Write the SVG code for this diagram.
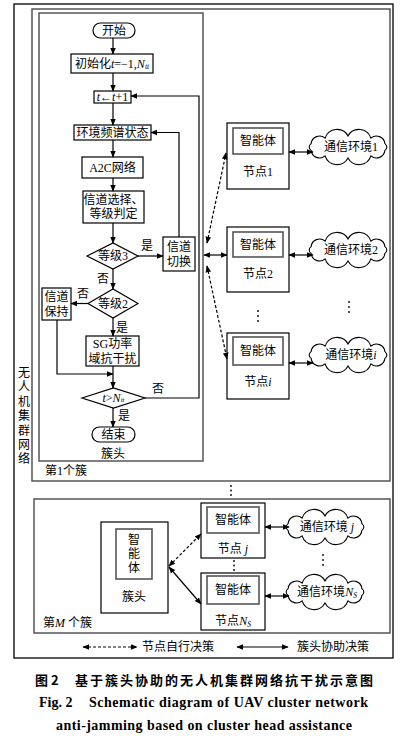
<svg xmlns="http://www.w3.org/2000/svg" width="403" height="751" viewBox="0 0 403 751">
<style>
.bx{fill:#fff;stroke:#000;stroke-width:1.2}
.gb{fill:none;stroke:#555;stroke-width:1.5}
.ib{fill:#fff;stroke:#555;stroke-width:1.6}
.t{font-family:"Liberation Serif","Noto Sans CJK SC",serif;font-size:12px;text-anchor:middle;dominant-baseline:central;fill:#000}
.tl{font-family:"Liberation Serif","Noto Sans CJK SC",serif;font-size:12px;dominant-baseline:central;fill:#000}
.ln{stroke:#000;stroke-width:1.2;fill:none}
.a{marker-end:url(#ah)}
.aa{marker-start:url(#ah);marker-end:url(#ah)}
.d{stroke-dasharray:3,2}
.cl{fill:#fff;stroke:#000;stroke-width:1.1}
.cap{font-family:"Noto Sans CJK SC",sans-serif;font-weight:bold;font-size:13px;dominant-baseline:central}
.en{font-family:"Liberation Serif",serif;font-weight:bold;font-size:14px}
</style>
<defs>
<marker id="ah" viewBox="0 0 10 10" refX="9" refY="5" markerWidth="7" markerHeight="7" markerUnits="userSpaceOnUse" orient="auto-start-reverse"><path d="M0,1 L10,5 L0,9 z" fill="#000"/></marker>
<path id="cloud" d="M-36.9,3.4 A4,4 0 0 1 -36.9,-3.4 A8.5,8.5 0 0 1 -22.9,-8.9 A12.5,12.5 0 0 1 0,-11 A12.5,12.5 0 0 1 22.9,-8.9 A8.5,8.5 0 0 1 36.9,-3.4 A4,4 0 0 1 36.9,3.4 A8.5,8.5 0 0 1 22.9,8.9 A12.5,12.5 0 0 1 0,11 A12.5,12.5 0 0 1 -22.9,8.9 A8.5,8.5 0 0 1 -36.9,3.4 Z"/>
</defs>
<rect width="403" height="751" fill="#fff"/>

<!-- frames -->
<g id="frame">
<rect x="14" y="4" width="379" height="654" fill="none" stroke="#000" stroke-width="1.3"/>
<text x="24" y="373" class="t"><tspan x="24" y="373">无</tspan><tspan x="24" y="387.4">人</tspan><tspan x="24" y="401.8">机</tspan><tspan x="24" y="416.2">集</tspan><tspan x="24" y="430.6">群</tspan><tspan x="24" y="445">网</tspan><tspan x="24" y="459.4">络</tspan></text>
</g>
<g id="cluster1">
<rect x="32" y="9" width="358" height="472" class="gb"/>
<text x="45" y="471" class="tl">第1个簇</text>
</g>
<g id="head1">
<rect x="39" y="13" width="164" height="448" class="gb"/>
<text x="113" y="454" class="t">簇头</text>
</g>

<!-- flowchart nodes -->
<g id="start"><rect x="93" y="23" width="42" height="15" rx="7.5" class="bx"/><text x="114" y="30.5" class="t">开始</text></g>
<g id="init"><rect x="71" y="54" width="82" height="19" class="bx"/><text x="112" y="63.5" class="t">初始化<tspan font-style="italic">t</tspan>=−1,<tspan font-style="italic">N</tspan><tspan font-style="italic" font-size="7.5" dy="2.5">tt</tspan></text></g>
<g id="inc"><rect x="94" y="91" width="37" height="12" class="bx"/><text x="112.5" y="97" class="t" font-size="11"><tspan font-style="italic">t</tspan>←<tspan font-style="italic">t</tspan>+1</text></g>
<g id="env"><rect x="74" y="125" width="77" height="15" class="bx"/><text x="112.5" y="132.5" class="t">环境频谱状态</text></g>
<g id="a2c"><rect x="82" y="157" width="61" height="21" class="bx"/><text x="112.5" y="167.5" class="t">A2C网络</text></g>
<g id="sel"><rect x="83" y="191" width="61" height="32" class="bx"/><text x="113.5" y="200" class="t" font-size="11">信道选择、</text><text x="113.5" y="214" class="t" font-size="11">等级判定</text></g>
<g id="lv3"><path d="M87,256 L113,243 L138,256 L113,269 Z" class="bx"/><text x="113" y="256" class="t">等级3</text></g>
<g id="sw"><rect x="163" y="237" width="32" height="34" class="bx"/><text x="179" y="247" class="t">信道</text><text x="179" y="262" class="t">切换</text></g>
<g id="lv2"><path d="M88,303.5 L113,289 L138,303.5 L113,318 Z" class="bx"/><text x="113" y="303.5" class="t">等级2</text></g>
<g id="keep"><rect x="42" y="288" width="29" height="32" class="bx"/><text x="56.5" y="297" class="t">信道</text><text x="56.5" y="312" class="t">保持</text></g>
<g id="sg"><rect x="86" y="336" width="53" height="30" class="bx"/><text x="112.5" y="344" class="t">SG功率</text><text x="112.5" y="359" class="t">域抗干扰</text></g>
<g id="cond"><path d="M82,398 L113.5,388 L145,398 L113.5,408 Z" class="bx"/><text x="113.5" y="397.5" class="t" font-size="11"><tspan font-style="italic">t</tspan>&gt;<tspan font-style="italic">N</tspan><tspan font-style="italic" font-size="7" dy="2.5">tt</tspan></text></g>
<g id="end"><rect x="92" y="427" width="43" height="15" rx="7.5" class="bx"/><text x="113.5" y="434.5" class="t">结束</text></g>

<!-- right side nodes -->
<g id="node1"><rect x="227" y="123" width="62" height="66" class="bx"/><rect x="233" y="128" width="50" height="26" class="ib"/><text x="258" y="141" class="t">智能体</text><text x="258" y="172" class="t">节点1</text></g>
<g id="env1"><use href="#cloud" x="348" y="147" class="cl"/><text x="351" y="147" class="t">通信环境1</text></g>
<g id="node2"><rect x="227" y="227" width="62" height="65" class="bx"/><rect x="233" y="232" width="50" height="25" class="ib"/><text x="258" y="244.5" class="t">智能体</text><text x="258" y="274" class="t">节点2</text></g>
<g id="env2"><use href="#cloud" x="348" y="250" class="cl"/><text x="351" y="250" class="t">通信环境2</text></g>
<g id="nodei"><rect x="227" y="333" width="62" height="66" class="bx"/><rect x="233" y="337" width="50" height="28" class="ib"/><text x="258" y="351" class="t">智能体</text><text x="258" y="382" class="t">节点<tspan font-style="italic">i</tspan></text></g>
<g id="envi"><use href="#cloud" x="348" y="355" class="cl"/><text x="351" y="355" class="t">通信环境<tspan font-style="italic">i</tspan></text></g>
<g id="dots1" fill="#000"><circle cx="258" cy="311" r="0.9"/><circle cx="258" cy="316" r="0.9"/><circle cx="258" cy="321" r="0.9"/><circle cx="349" cy="302" r="0.9"/><circle cx="349" cy="307" r="0.9"/><circle cx="349" cy="312" r="0.9"/><circle cx="231" cy="486" r="0.9"/><circle cx="231" cy="490.5" r="0.9"/><circle cx="231" cy="495" r="0.9"/></g>

<!-- cluster M -->
<g id="clusterM"><rect x="34" y="499" width="356" height="134" class="gb"/><text x="43" y="623" class="tl">第<tspan font-style="italic">M</tspan> 个簇</text></g>
<g id="headM"><rect x="101" y="522" width="67" height="91" class="bx"/><rect x="116" y="529" width="36" height="50" class="ib"/><text x="134" y="540" class="t">智</text><text x="134" y="554" class="t">能</text><text x="134" y="568" class="t">体</text><text x="134" y="597" class="t">簇头</text></g>
<g id="nodej"><rect x="201" y="503" width="64" height="55" class="bx"/><rect x="207" y="507" width="52" height="26" class="ib"/><text x="233" y="520" class="t">智能体</text><text x="233" y="549" class="t">节点 <tspan font-style="italic">j</tspan></text></g>
<g id="envj"><use href="#cloud" x="325" y="527" class="cl"/><text x="327" y="527" class="t">通信环境 <tspan font-style="italic">j</tspan></text></g>
<g id="nodeNs"><rect x="201" y="573" width="64" height="57" class="bx"/><rect x="207" y="576" width="52" height="28" class="ib"/><text x="233" y="590" class="t">智能体</text><text x="233" y="621" class="t">节点<tspan font-style="italic">N</tspan><tspan font-style="italic" font-size="7.5" dy="2.5">S</tspan></text></g>
<g id="envNs"><use href="#cloud" x="325" y="592" class="cl"/><text x="327" y="592" class="t">通信环境<tspan font-style="italic">N</tspan><tspan font-style="italic" font-size="7.5" dy="2.5">S</tspan></text></g>
<g id="dots2" fill="#000"><circle cx="234" cy="561" r="0.9"/><circle cx="234" cy="565.5" r="0.9"/><circle cx="234" cy="570" r="0.9"/><circle cx="323" cy="555" r="0.9"/><circle cx="323" cy="560" r="0.9"/><circle cx="323" cy="565" r="0.9"/></g>

<!-- connectors -->
<g id="connectors">
<line x1="113" y1="38" x2="113" y2="54" class="ln a"/>
<line x1="113" y1="73" x2="113" y2="91" class="ln a"/>
<line x1="113" y1="103" x2="113" y2="125" class="ln a"/>
<line x1="113" y1="140" x2="113" y2="157" class="ln a"/>
<line x1="113" y1="178" x2="113" y2="191" class="ln a"/>
<line x1="113" y1="223" x2="113" y2="243" class="ln a"/>
<line x1="113" y1="269" x2="113" y2="289" class="ln a"/>
<line x1="113" y1="318" x2="113" y2="336" class="ln a"/>
<line x1="113" y1="366" x2="113" y2="388" class="ln a"/>
<line x1="113" y1="408" x2="113" y2="427" class="ln a"/>
<line x1="138" y1="256" x2="163" y2="256" class="ln a"/>
<polyline points="179,237 179,132.5 151,132.5" class="ln a"/>
<line x1="88" y1="303.5" x2="71" y2="303.5" class="ln a"/>
<polyline points="57,320 57,374 113,374" class="ln a"/>
<polyline points="145,398 199,398 199,96 131,96" class="ln a"/>
<line x1="207" y1="243" x2="226" y2="153" class="ln aa d"/>
<line x1="204" y1="255" x2="227" y2="255" class="ln aa"/>
<line x1="207" y1="266" x2="227" y2="359" class="ln aa d"/>
<line x1="289" y1="152" x2="313" y2="152" class="ln aa"/>
<line x1="289" y1="255" x2="313" y2="255" class="ln aa"/>
<line x1="289" y1="363" x2="313" y2="363" class="ln aa"/>
<line x1="169" y1="566" x2="201" y2="534" class="ln aa d"/>
<line x1="169" y1="567" x2="201" y2="604" class="ln aa"/>
<line x1="265" y1="527" x2="289" y2="527" class="ln aa"/>
<line x1="265" y1="596" x2="289" y2="596" class="ln aa"/>
</g>
<g id="labels">
<text x="147" y="246" class="t">是</text>
<text x="103" y="279" class="t">否</text>
<text x="83" y="294" class="t">否</text>
<text x="122" y="328" class="t">是</text>
<text x="158" y="389" class="t">否</text>
<text x="124" y="416" class="t">是</text>
</g>

<!-- legend -->
<g id="legend">
<line x1="83" y1="647" x2="137" y2="647" class="ln aa d"/>
<text x="142" y="647" class="tl">节点自行决策</text>
<line x1="237" y1="647" x2="288" y2="647" class="ln aa"/>
<text x="297" y="647" class="tl">簇头协助决策</text>
</g>

<!-- caption -->
<g id="caption">
<text x="35" y="679" class="cap">图 2</text>
<text x="75" y="679" class="cap" textLength="298" lengthAdjust="spacing">基于簇头协助的无人机集群网络抗干扰示意图</text>
<text x="39" y="707" class="en">Fig. 2</text>
<text x="89" y="707" class="en" textLength="279" lengthAdjust="spacing">Schematic diagram of UAV cluster network</text>
<text x="56" y="730" class="en" textLength="296" lengthAdjust="spacing">anti-jamming based on cluster head assistance</text>
</g>
</svg>
